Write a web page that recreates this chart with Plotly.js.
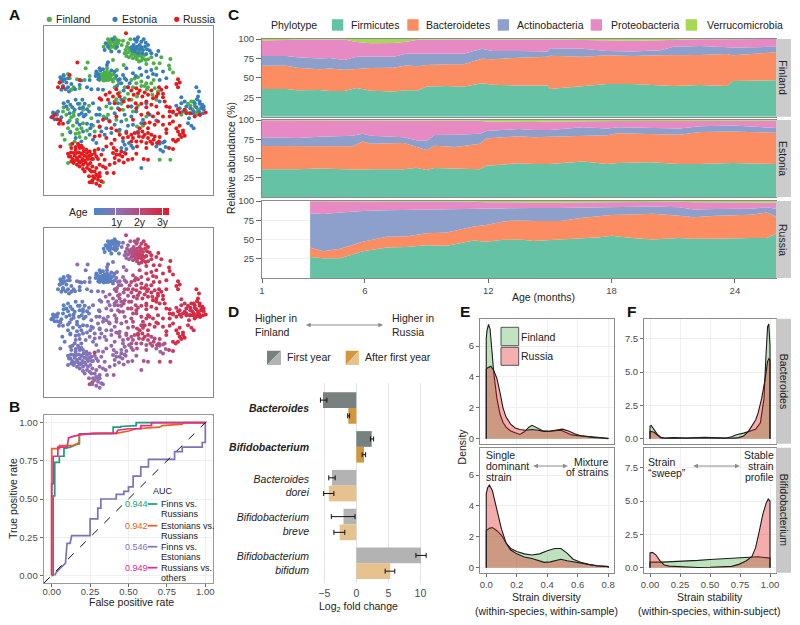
<!DOCTYPE html>
<html><head><meta charset="utf-8">
<script src="https://cdn.plot.ly/plotly-3.0.1.min.js"></script>
<style>html,body{margin:0;padding:0;background:#fff}</style></head>
<body><div id="chart" style="width:800px;height:625px"></div>
<script>
// ---------- Panel A: t-SNE points as [x, y, age in years] ----------
const finlandPoints=[[345,112,.4],[335,118,.3],[352,120,.3],[328,125,.4],[340,126,.3],[350,128,.4],[322,133,.3],[333,136,.5],[345,135,.4],[355,130,.6],[312,140,.3],[330,146,.3],[370,122,.9],[366,135,1.0],[385,130,1.4],[392,118,1.6],
[378,150,1.5],[388,146,1.7],[400,142,1.8],[410,150,2],[420,155,2.2],[375,160,1.3],[385,158,1.5],[395,165,1.9],[405,163,2.1],[415,168,2.3],[425,170,2.4],[435,165,2.5],[412,178,2.1],[425,182,2.3],[438,180,2.5],[400,175,1.8],[388,172,1.4],[445,178,2.4],[455,172,2.5],[462,190,2.6],[480,190,2.3],[512,177,2.9],[485,172,2.6],[508,197,2.8],[510,207,2.9],[520,218,2.7],[264,188,1],[340,180,.9],[322,205,.8],[352,210,1.1],[372,195,1.3],
[300,230,.3],[308,222,.3],[315,218,.3],[322,215,.4],[330,220,.3],[305,235,.2],[312,232,.3],[320,228,.3],[328,230,.4],[335,226,.4],[318,240,.3],[326,240,.3],[312,242,.2],[335,238,.5],[342,222,.6],[345,235,.7],
[192,228,.3],[205,222,.5],[210,235,.4],[232,238,.6],[240,265,.5],[255,240,.7],[270,228,.9],[222,262,.5],[215,270,.6],
[345,262,1.3],[358,250,1.6],[375,262,1.9],[395,240,2.1],[405,236,2.2],[415,232,2.3],[425,245,2.4],[435,258,2.6],[445,262,2.5],[455,250,2.7],[465,265,2.4],[475,275,2.6],[458,285,2.5],[442,268,2.5],[375,295,1.7],[395,300,1.9],[412,290,2],[345,305,1.3],[365,312,1.7],[395,320,2],
[192,322,.3],[205,328,.4],[190,335,.3],[215,352,.5],[222,348,.6],[210,362,.5],[240,312,.4],[250,330,.5],[268,318,.6],[300,328,.8],[325,345,1.1],[312,350,1],[275,355,.6],
[188,405,.4],[212,395,.4],[232,388,.6],[228,402,.7],[240,412,.8],[250,370,.6],[262,392,.8],[285,395,.9],[300,382,.9],[358,395,1.2],[212,435,.8],[225,425,.7],
[565,312,2.7],[575,305,2.8],[585,318,2.9],[595,330,2.9],[600,340,3],[578,328,2.7],[570,340,2.6],[590,345,2.8],[605,322,2.9],[545,345,2.3],
[205,490,.8],[310,548,1.1],[480,480,2],[512,480,2.2],[412,380,2.2],[430,378,2.4],[380,360,1.7],[440,350,2.3],[415,318,2.1],
[338,122,.3],[346,118,.4],[330,130,.3],[358,122,.5],[340,140,.4],[325,118,.3],[348,145,.4],[382,140,1.5],[392,152,1.7],[402,152,1.9],[398,158,2],[412,158,2.2],[420,162,2.2],[430,176,2.4],[418,185,2.3],[408,170,2.1],[380,168,1.3],[440,192,2.5],[470,205,2.6],[300,224,.3],[308,228,.3],[316,224,.3],[324,222,.3],[332,234,.4],[318,234,.3],[310,238,.3],[324,234,.3],[300,240,.3],[340,245,.6],[258,205,.9],
[425,258,2.5],[440,250,2.4],[462,240,2.6],[410,250,2.3],[400,262,2.2],[385,282,1.9],[360,278,1.7],[350,298,1.5],[335,325,1.3],[320,320,1.1],[400,335,2],[470,300,2.6],[200,345,.4],[222,338,.5],[232,360,.5],[220,378,.6],[245,385,.7],[205,385,.5],[238,400,.8],[195,420,.6],[258,415,.8],[280,378,.9],[328,362,1.2],[572,318,2.8],[582,305,2.9],[592,338,2.9],[560,335,2.6],[350,360,1.5],[370,330,1.7]];

const estoniaPoints=[[318,130,.3],[340,118,.4],[325,140,.3],[352,140,.4],[335,155,.3],[358,155,.5],[315,150,.3],[415,112,2],[410,125,2.1],[432,118,2.3],[438,128,2.4],[420,135,2.2],[402,135,1.9],[395,142,1.8],[408,145,2],[420,148,2.1],[430,150,2.3],[442,148,2.5],[450,152,2.6],[476,153,2.8],[405,155,2],[415,160,2.2],[428,160,2.4],[470,165,2.7],[380,205,1.4],[325,187,.6],[322,195,.7],
[290,215,.3],[295,222,.3],[298,232,.2],[288,228,.3],[302,212,.3],[310,208,.4],[335,212,.5],[350,228,.9],[360,238,1.2],[370,225,1.3],[380,240,1.7],[390,250,1.9],[365,250,1.5],[372,272,1.6],[385,262,1.9],[400,220,2],[420,205,2.1],[440,215,2.4],[455,210,2.5],[470,225,2.5],[445,232,2.5],[490,215,2.7],[500,235,2.8],
[182,232,.3],[188,245,.3],[195,238,.4],[205,235,.5],[180,248,.3],[190,258,.3],[198,268,.4],[208,275,.5],[215,252,.6],[245,242,.5],[262,262,.6],[270,240,.7],[275,268,.7],[295,268,.9],
[192,310,.3],[200,320,.3],[212,315,.4],[228,300,.4],[248,300,.4],[255,312,.5],[240,325,.4],[246,340,.4],[258,345,.5],[268,335,.6],[225,330,.4],[160,338,.2],[172,345,.3],[155,352,.2],[175,335,.3],[185,352,.3],[165,358,.3],[280,310,.7],[298,325,.9],
[205,368,.5],[212,398,.4],[232,368,.5],[262,372,.6],[272,385,.7],[270,405,.8],[250,395,.7],[295,365,.9],[305,395,1],[320,385,1.1],[335,400,1.2],[345,375,1.3],[330,310,1.2],[355,325,1.4],[345,340,1.4],[375,345,1.6],[395,350,1.9],[410,335,2],[365,365,1.5],[385,378,1.7],[400,375,2],[430,360,2.2],[450,345,2.3],[415,395,2.1],[440,310,2.3],[480,305,2.5],[365,300,1.6],
[375,435,1.2],[388,430,1.4],[400,445,1.5],[365,445,1.1],[380,448,1.3],[480,432,1.4],[490,428,1.6],[498,442,1.5],[482,450,1.3],[490,455,1.7],[425,505,1.6],[310,450,1.0],[290,430,.9],[245,425,.7],
[590,262,3],[598,275,3],[595,290,3],[600,305,3],[585,310,2.9],[590,322,2.9],[608,315,3],[612,328,2.8],[598,335,2.9],[582,335,2.9],[572,325,2.8],[560,320,2.8],[545,292,2.5],[555,305,2.6],[540,325,2.5],[550,335,2.6],[520,338,2.3],[565,370,2.5],[575,378,2.6],[582,385,2.7],[610,340,3],
[412,120,2],[425,125,2.2],[405,118,1.9],[445,135,2.5],[412,140,2.1],[425,142,2.3],[436,140,2.4],[398,150,1.9],[455,160,2.6],[440,162,2.5],[290,220,.3],[300,205,.3],[296,238,.3],[345,215,.6],[355,240,1.1],[375,235,1.5],[352,258,1.4],[408,228,2.2],[425,225,2.3],[460,222,2.5],[480,240,2.6],[185,238,.3],[200,248,.4],[192,225,.3],[205,262,.4],[226,268,.5],[240,255,.6],[185,270,.4],[310,270,.9],
[205,305,.3],[218,322,.4],[235,312,.4],[250,322,.4],[262,328,.5],[252,350,.5],[238,345,.4],[160,348,.2],[168,340,.3],[180,360,.3],[210,340,.4],[290,345,.8],[275,375,.7],[240,375,.6],[228,415,.7],[280,420,.9],[315,405,1.1],[360,390,1.4],[380,395,1.7],[425,370,2.2],[470,362,2.4],[395,320,1.9],[355,310,1.4],[320,355,1.1],[300,345,.9],[370,425,1.3],[395,438,1.5],[375,458,1.2],[470,440,1.5],[495,425,1.7],
[605,325,3],[600,312,2.9],[592,298,3],[602,345,2.9],[612,320,3],[580,340,2.9],[568,355,2.6],[530,318,2.5],[545,310,2.5]];

const russiaPoints=[[379,100,2.2],[233,188,1.2],[535,238,3],[540,248,2.9],[530,252,2.9],[535,262,2.8],[300,295,1],[305,300,1],[490,292,2.9],[495,305,2.9],
[205,462,.7],[212,470,.8],[218,478,.8],[225,468,.9],[232,475,.9],[240,470,.9],[248,478,.8],[222,490,.8],[232,495,.9],[240,488,.9],[250,495,.9],[258,488,1],[265,478,1],[272,490,1.1],[215,445,.7],[228,450,.7],[240,445,.8],[252,455,.8],[262,460,.9],[235,432,.8],[218,432,.9],[245,438,1],[270,455,1],[285,462,1.1],[280,478,1.1],[295,478,1.2],[262,505,1.1],[250,508,1],[278,500,1.2],[290,505,1.3],[300,495,1.3],[315,480,1.3],[318,505,1.4],[330,495,1.3],[275,515,1.1],[290,525,1.2],[300,520,1.3],[268,530,1.3],[278,542,2.1],[270,548,2.2],[285,535,1.2],[295,540,1.1],[305,545,1.2],[290,552,1.1],[300,558,1],[322,520,1.3],[342,520,1.5],
[340,460,1.3],[350,452,1.2],[360,465,1.3],[345,475,1.3],[358,482,1.2],[368,470,1.3],[372,488,1.3],[378,462,1.3],[398,478,1.5],[432,478,1.8],[445,480,1.8],[320,440,1.5],[335,432,1.4],[296,448,1.2],[182,440,.9],[285,452,2.3],
[385,412,1.7],[395,405,1.8],[405,400,1.9],[418,410,2],[428,395,2.4],[435,405,2.5],[445,415,2],[455,405,2.1],[462,420,2.1],[472,430,2.2],[458,432,1.9],[440,430,1.8],[425,425,1.9],[412,440,1.8],[395,425,1.7],[370,415,1.5],[360,405,1.5],[345,420,1.3],[300,408,1.1],[320,415,1.2],[480,412,2.3],[500,400,2.5],[520,420,2.8],[535,420,2.9],[545,412,3],[550,400,3],[530,385,2.9],[540,378,2.9],[550,392,3],[508,445,2.5],[520,448,2.5],
[165,345,.6],[172,358,.6],[182,362,.7],[190,372,.7],[158,352,.5],[178,372,.6],
[325,300,1.3],[340,290,1.5],[355,282,1.7],[330,278,1.5],[350,268,1.8],[410,265,2.2],[395,272,2.2],[402,285,2.3],[420,272,2.5],[428,290,2.5],[445,285,2.7],[460,295,2.8],[475,282,2.7],[485,270,2.8],[478,262,2.7],[440,305,2.5],[455,315,2.6],[470,320,2.7],[425,312,2.4],[408,310,2.3],[388,300,2],[372,305,1.9],[360,290,1.7],
[500,320,2.7],[510,322,2.8],[520,335,2.7],[535,328,2.9],[555,330,2.8],[572,340,3],[585,350,3],[600,345,3],[618,338,3],[530,345,2.8],[510,350,2.7],
[445,340,2.5],[460,350,2.5],[475,340,2.6],[490,350,2.6],[435,370,2.6],[420,385,2.6],[445,385,2.4],[465,375,2.5],[490,375,2.5],[510,372,2.6],[400,360,2.1],[350,350,1.6],[330,365,1.4],[310,360,1.2],[335,385,1.3],[180,248,.6],[190,262,.6],[175,262,.5],[210,225,.8],[240,240,.7],[285,410,1],
[208,470,.8],[214,458,.7],[222,460,.8],[230,460,.8],[238,458,.8],[246,462,.8],[254,468,.9],[262,472,.9],[270,468,1],[215,485,.8],[225,482,.8],[235,482,.9],[245,485,.9],[255,482,1],[265,495,1],[275,478,1.1],[228,442,.8],[238,438,.8],[250,445,.8],[260,450,.9],[275,465,1],[290,470,1.1],[305,465,1.2],[240,500,1],[255,515,1.1],[270,510,1.1],[285,515,1.2],[300,530,1.1],[280,530,1.2],[295,530,1.1],[278,548,1],[310,500,1.3],[345,490,1.3],[350,465,1.2],[365,455,1.3],[342,445,1.3],[385,480,1.4],[410,462,1.5],
[400,415,1.8],[410,425,1.9],[430,412,2.3],[445,400,2.4],[452,425,2],[465,410,2.1],[478,425,2.2],[380,400,1.7],[350,392,1.5],[300,380,1],[440,445,1.8],[528,425,2.8],[540,405,3],[555,408,3],[535,395,3],
[385,262,2],[415,280,2.3],[435,278,2.6],[455,272,2.7],[470,290,2.8],[490,282,2.9],[500,262,2.8],[440,322,2.5],[410,325,2.3],[385,320,2.1],[360,330,1.7],[345,310,1.5],[318,285,1.3],[510,335,2.8],[540,338,2.8],[560,340,2.9],[475,365,2.6],[450,368,2.5],[425,345,2.4],[500,388,2.6],[520,365,2.7],[415,400,2.6]];

// ---------- Panel B: ROC curves ----------
const rocGreenX=[0,.01,.01,.02,.02,.05,.05,.08,.08,.12,.17,.18,.18,.4,.4,.45,.45,.55,.55,1];
const rocGreenY=[0,0,.52,.52,.74,.74,.78,.78,.83,.84,.86,.86,.926,.93,.97,.97,.975,.98,1,1];
const rocOrangeX=[0,0,.05,.05,.14,.18,.18,.27,.42,.5,.55,.7,.72,.85,.86,1];
const rocOrangeY=[0,.83,.83,.85,.85,.87,.92,.93,.93,.945,.96,.97,.98,.99,1,1];
const rocPurpleX=[.02,.03,.05,.07,.09,.1,.12,.13,.25,.25,.3,.3,.32,.32,.42,.42,.47,.47,.5,.5,.53,.53,.58,.58,.63,.63,.8,.8,.85,.85,.98,.98,1,1];
const rocPurpleY=[0,.02,.04,.06,.08,.21,.21,.26,.26,.37,.37,.44,.44,.5,.5,.53,.53,.55,.55,.58,.58,.65,.65,.71,.71,.76,.76,.81,.81,.84,.84,.87,.87,1];
const rocPinkX=[0,0,.01,.01,.04,.04,.1,.11,.14,.17,.2,.3,.42,.43,.5,.58,.58,.65,.65,1];
const rocPinkY=[0,.6,.6,.78,.78,.84,.84,.9,.91,.92,.925,.93,.93,.95,.96,.96,.98,.98,1,1];
const diagonalX=[-.05,1.05], diagonalY=[-.05,1.05];

// ---------- Panel C: upper edge of each stacked band (%) ----------
const phyla=['Firmicutes','Bacteroidetes','Actinobacteria','Proteobacteria','Verrucomicrobia'];
const phylaColors=['#66c2a5','#fc8d62','#8da0cb','#e78ac3','#a6d854'];
const finMonths=[1,2.2,2.7,3.8,4.3,5,5.6,6.3,7.4,8,8.6,9,10,10.8,11.7,12.2,13.5,14.9,15,16.6,17.8,19,20.4,21,22.3,23.6,23.9,25,26];
const finFirm=[35.6,35.5,34,34.5,33,33,37,33.5,32.5,34,34,39,39.5,38.5,43,41,40,40.2,35.5,39,42,42,40.5,39.5,40.8,39.5,46,46.5,47];
const finBact=[65.7,65.7,63,61,62,60.5,61.5,62.6,63,66,65,66.5,67.4,67.4,74.7,74,76,77,78.5,77,79,78,79,79,79.5,80.6,79,81,83];
const finActi=[78,78,76.5,75,75.5,73,77,77,77,81,81,81.5,81.5,81,87.5,84.5,84.5,84,88,87.5,84.5,84,85.5,90,91,90,89,89.5,90];
const finProt=[98,99,99,99.3,99.4,99.5,96,94.5,95,96.5,99,99.2,99.4,99.5,99.5,99.6,99.6,99.4,99.2,98.5,98,97.8,98.5,99,99.6,99.8,99.8,99.9,99.9];
const finVerr=[100,100,100,100,100,100,100,100,100,100,100,100,100,100,100,100,100,100,100,100,100,100,100,100,100,100,100,100,100];

const estMonths=[1,2.7,3.8,5.4,5.9,6.3,7.9,8.5,9,9.4,10.4,11.6,11.9,13.5,14.2,15,16.6,17.8,18.3,19.9,21.3,22.3,23.9,26];
const estFirm=[36,36,37,35.5,35.5,36,36,38,35,37.5,36.5,36,40.7,43.7,43,43,46,43,44,45,43,43,44,43];
const estBact=[66.2,66,66,66,72,69,70,65,61,66.7,65,69,76,79,77.5,78.4,80,80.3,82.7,82,81,84.5,85,83.5];
const estActi=[77.5,76.6,78.4,79.6,82,79.6,77.5,73.6,73,80.5,81,82,85.7,88.3,87,87,90.5,89,90.5,90,89,92,93,89.6];
const estProt=[99.6,99.5,99.4,99.2,99.2,99.1,99,99,99,99,99,99,98,97,97.5,98,98.7,98.7,98.8,98.8,99,99,99,99];
const estVerr=[100,100,100,100,100,100,100,100,100,100,100,100,100,100,100,100,100,100,100,100,100,100,100,100];

const rusMonths=[3.34,3.98,4.8,5.9,7.07,8,9,10,11.3,11.9,12.75,13.55,14.2,15.5,16.5,17.45,18,19,20,21.3,22,23.1,24.75,25.55,26];
const rusFirm=[27.4,25.6,25.6,34.8,39.6,40.4,42.6,42,48.7,47,49.6,50,48,50,52,53,55,52,50,52,51,51,52,52,57.4];
const rusBact=[39.6,34.8,38,47,53.5,54,58,59,67,68.7,73.5,75,74,74,78,80,81.7,82.5,83.5,81,79,81,82,85,80];
const rusActi=[84,83,85,87,88,88.5,89,89.5,90,90.2,90.4,91.3,91,91,91.5,92,92,92.5,93,92,89,89.5,90,92,90];
const rusProt=[99.6,99.6,99.6,99.6,99.5,99.5,99.5,99.5,99,98.5,98,98,98,98.2,98.4,98.6,98.8,99,99,99,98.5,98.5,98,98,98];
const rusVerr=[100,100,100,100,100,100,100,100,100,100,100,100,100,100,100,100,100,100,100,100,100,100,100,100,100];

// ---------- Panel D: log2 fold change ----------
const dCategories=['<b><i>Bacteroides</i></b>','<b><i>Bifidobacterium</i></b>','<i>Bacteroides</i><br><i>dorei</i>','<i>Bifidobacterium</i><br><i>breve</i>','<i>Bifidobacterium</i><br><i>bifidum</i>'];
const firstYear=[-5.2,2.4,-3.8,-2,10.1];
const firstYearLow=[-5.6,2.2,-4.3,-3.9,9.3];
const firstYearHigh=[-4.6,2.7,-3.3,-.2,10.9];
const afterYear=[-1.25,1.2,-4.3,-2.6,5.3];
const afterYearLow=[-1.35,.9,-5.1,-3.5,4.5];
const afterYearHigh=[-1.05,1.45,-3.5,-1.8,6];
const firstYearColors=['#788080','#788080','#b3b3b3','#b3b3b3','#b3b3b3'];
const afterYearColors=['#d4963a','#d4963a','#e6c28e','#e6c28e','#e6c28e'];

// ---------- Panel E: strain diversity densities ----------
const eBacFinX=[0,0,.005,.015,.025,.035,.05,.07,.09,.11,.13,.16,.19,.22,.25,.28,.3,.33,.37,.41,.45,.49,.52,.56,.6,.65,.7,.75,.8,.8];
const eBacFinY=[0,6.5,7,7.4,7.1,6,4.2,2.6,1.6,1.05,.75,.5,.4,.28,.45,.75,.87,.72,.52,.48,.52,.55,.42,.25,.2,.17,.12,.07,.04,0];
const eBacRusX=[0,0,.01,.03,.05,.07,.09,.11,.13,.16,.19,.22,.26,.3,.34,.38,.42,.46,.5,.54,.58,.62,.66,.7,.75,.8,.8];
const eBacRusY=[0,4.5,4.6,4.7,4.4,3.9,3,2,1.4,.95,.7,.6,.55,.6,.55,.48,.5,.58,.62,.5,.32,.2,.13,.09,.05,.03,0];
const eBifFinX=[0,0,.02,.04,.07,.1,.13,.16,.2,.25,.3,.35,.4,.45,.49,.53,.57,.62,.67,.72,.8,.8];
const eBifFinY=[0,2.4,2.55,2.6,2.4,2.1,1.6,1.25,1.05,.9,.83,.9,1.1,1.25,1.25,.95,.55,.35,.22,.13,.08,0];
const eBifRusX=[0,0,.01,.02,.04,.06,.08,.1,.13,.16,.2,.25,.3,.34,.38,.42,.46,.49,.53,.58,.63,.68,.73,.8,.8];
const eBifRusY=[0,4.8,5.2,5.35,5,4.2,3.3,2.5,1.6,1.15,.9,.7,.6,.45,.35,.38,.48,.55,.45,.37,.3,.2,.12,.08,0];

// ---------- Panel F: strain stability densities ----------
const fBacFinX=[0,0,.01,.03,.06,.09,.12,.2,.3,.4,.46,.55,.63,.68,.72,.78,.83,.88,.92,.95,.965,.98,.99,1,1];
const fBacFinY=[0,.95,1,.75,.35,.1,.05,.08,.04,.08,.1,.06,.03,.15,.3,.42,.55,.7,1.2,3,6,8.4,8.6,7,0];
const fBacRusX=[0,0,.03,.06,.09,.12,.2,.3,.4,.5,.6,.7,.74,.78,.82,.85,.88,.9,.93,.96,.98,.99,1,1];
const fBacRusY=[0,.55,.5,.3,.08,.03,.05,.03,.05,.06,.03,.04,.08,.2,.55,.95,1.4,1.9,3,4.5,5.8,6,5.9,0];
const fBifFinX=[0,0,.1,.2,.3,.4,.5,.6,.7,.8,.9,1,1];
const fBifFinY=[0,.42,.42,.45,.5,.55,.62,.68,.72,.78,.82,.72,0];
const fBifRusX=[0,0,.02,.05,.08,.12,.16,.2,.3,.4,.5,.6,.68,.74,.8,.85,.88,.91,.94,.97,.985,1,1];
const fBifRusY=[0,1.1,1.15,.95,.55,.2,.12,.1,.03,.02,.03,.05,.1,.25,.5,.85,1.5,2.7,4,4.9,5.15,5,0];

// ---------- helpers ----------
const W=800,H=625,FONT='"Liberation Sans", Arial, sans-serif';
const px=x=>x/W, py=y=>1-y/H;
const ink='#222', tickInk='#4a4a4a', frame='#8a8a8a', grid='#ececec';
const annotations=[], shapes=[];
function label(text,x,y,o={}){annotations.push(Object.assign({text,x:px(x),y:py(y),xref:'paper',yref:'paper',showarrow:false,xanchor:'left',yanchor:'middle',font:{family:FONT,size:10.5,color:ink},borderpad:0,borderwidth:0},o));}
function rows(lines,x,y0,dy,o={}){lines.forEach((t,i)=>label(t,x,y0+i*dy,o));}
function rect(x0,y0,x1,y1,fill,line,layer){shapes.push({type:'rect',xref:'paper',yref:'paper',x0:px(x0),x1:px(x1),y0:py(y0),y1:py(y1),fillcolor:fill,line:{color:line||fill,width:line?1:0},layer:layer||'above'});}
function dot(x,y,r,fill){shapes.push({type:'circle',xref:'paper',yref:'paper',x0:px(x-r),x1:px(x+r),y0:py(y-r),y1:py(y+r),fillcolor:fill,line:{width:0}});}
function tri(pts,fill){shapes.push({type:'path',xref:'paper',yref:'paper',path:'M'+pts.map(p=>px(p[0])+','+py(p[1])).join('L')+'Z',fillcolor:fill,line:{width:0}});}
function doubleArrow(x0,x1,y,color){
  const c=color||'#8c8c8c';
  shapes.push({type:'line',xref:'paper',yref:'paper',x0:px(x0+3),x1:px(x1-3),y0:py(y),y1:py(y),line:{color:c,width:1}});
  tri([[x0,y],[x0+5,y-2.3],[x0+5,y+2.3]],c); tri([[x1,y],[x1-5,y-2.3],[x1-5,y+2.3]],c);
}
function xa(x0,x1,range,o={}){return Object.assign({domain:[px(x0),px(x1)],range,fixedrange:true,showline:true,mirror:true,linecolor:frame,linewidth:1,zeroline:false,showgrid:true,gridcolor:grid,gridwidth:.8,ticks:'outside',ticklen:3,tickcolor:'#444',tickwidth:.8,tickfont:{family:FONT,size:9.5,color:tickInk},automargin:false},o);}
function ya(y0,y1,range,o={}){return Object.assign({domain:[py(y1),py(y0)],range,fixedrange:true,showline:true,mirror:true,linecolor:frame,linewidth:1,zeroline:false,showgrid:true,gridcolor:grid,gridwidth:.8,ticks:'outside',ticklen:3,tickcolor:'#444',tickwidth:.8,tickfont:{family:FONT,size:9.5,color:tickInk},automargin:false},o);}

const traces=[];
const noAxis={showticklabels:false,ticks:'',showgrid:false};

// ---- Panel A
const ax=p=>p.map(q=>q[0]), ay=p=>p.map(q=>q[1]), aa=p=>p.map(q=>q[2]);
[[finlandPoints,'#4daf4a','Finland'],[estoniaPoints,'#377eb8','Estonia'],[russiaPoints,'#e41a1c','Russia']].forEach(s=>{
  traces.push({type:'scatter',mode:'markers',x:ax(s[0]),y:ay(s[0]),xaxis:'x',yaxis:'y',name:s[2],marker:{size:4,color:s[1]},showlegend:false,hoverinfo:'skip'});
});
const allPts=finlandPoints.concat(estoniaPoints,russiaPoints);
traces.push({type:'scatter',mode:'markers',x:ax(allPts),y:ay(allPts),xaxis:'x2',yaxis:'y2',showlegend:false,hoverinfo:'skip',
 marker:{size:4,color:aa(allPts),cmin:.08,cmax:3.28,colorscale:[[0,'#4a86c8'],[.33,'#8f6fb5'],[.66,'#c0446e'],[1,'#e41a2c']],showscale:true,
  colorbar:{orientation:'h',x:px(94),xanchor:'left',y:py(208.3),yanchor:'top',lenmode:'pixels',len:75,thicknessmode:'pixels',thickness:6.5,outlinewidth:0,borderwidth:0,
   tickmode:'array',tickvals:[1,2,3],ticks:'inside',ticklen:6.5,tickcolor:'#fff',tickwidth:1,showticklabels:false,xpad:0,ypad:0}}});
const aXRange=[133,640], aYRange=[586,78];

// ---- Panel B
[[rocGreenX,rocGreenY,'#1b9e77','Finns vs. Russians'],[rocOrangeX,rocOrangeY,'#e8601c','Estonians vs. Russians'],[rocPurpleX,rocPurpleY,'#7b73b8','Finns vs. Estonians'],[rocPinkX,rocPinkY,'#e7298a','Russians vs. others']].forEach(s=>{
  traces.push({type:'scatter',mode:'lines',x:s[0],y:s[1],xaxis:'x3',yaxis:'y3',name:s[3],line:{color:s[2],width:1.7},showlegend:false,hoverinfo:'skip'});
});
traces.push({type:'scatter',mode:'lines',x:diagonalX,y:diagonalY,xaxis:'x3',yaxis:'y3',line:{color:'#111',width:1,dash:'8px,9px'},showlegend:false,hoverinfo:'skip'});

// ---- Panel C
function stack(months,bands,xn,yn){
  bands.forEach((b,i)=>traces.push({type:'scatter',mode:'lines',x:months,y:b,xaxis:xn,yaxis:yn,name:phyla[i],line:{width:0,color:phylaColors[i]},fill:i?'tonexty':'tozeroy',fillcolor:phylaColors[i],showlegend:false,hoverinfo:'skip'}));
}
stack(finMonths,[finFirm,finBact,finActi,finProt,finVerr],'x4','y4');
stack(estMonths,[estFirm,estBact,estActi,estProt,estVerr],'x5','y5');
stack(rusMonths,[rusFirm,rusBact,rusActi,rusProt,rusVerr],'x6','y6');

// ---- Panel D
const errs=(v,lo,hi)=>({type:'data',symmetric:false,array:hi.map((h,i)=>h-v[i]),arrayminus:lo.map((l,i)=>v[i]-l),color:'#111',thickness:1,width:2.5});
traces.push({type:'bar',orientation:'h',y:dCategories,x:firstYear,name:'First year',xaxis:'x7',yaxis:'y7',marker:{color:firstYearColors,line:{width:0}},error_x:errs(firstYear,firstYearLow,firstYearHigh),showlegend:false,hoverinfo:'skip'});
traces.push({type:'bar',orientation:'h',y:dCategories,x:afterYear,name:'After first year',xaxis:'x7',yaxis:'y7',marker:{color:afterYearColors,line:{width:0}},error_x:errs(afterYear,afterYearLow,afterYearHigh),showlegend:false,hoverinfo:'skip'});

// ---- Panels E, F
const finFill='rgba(77,175,74,.36)', rusFill='rgba(228,26,28,.36)';
function dens(x,y,fill,xn,yn,name){traces.push({type:'scatter',mode:'lines',x,y,xaxis:xn,yaxis:yn,name,fill:'toself',fillcolor:fill,line:{color:'#1c1c1c',width:1.1},showlegend:false,hoverinfo:'skip'});}
dens(eBacFinX,eBacFinY,finFill,'x8','y8','Finland'); dens(eBacRusX,eBacRusY,rusFill,'x8','y8','Russia');
dens(eBifFinX,eBifFinY,finFill,'x9','y9','Finland'); dens(eBifRusX,eBifRusY,rusFill,'x9','y9','Russia');
dens(fBacFinX,fBacFinY,finFill,'x10','y10','Finland'); dens(fBacRusX,fBacRusY,rusFill,'x10','y10','Russia');
dens(fBifFinX,fBifFinY,finFill,'x11','y11','Finland'); dens(fBifRusX,fBifRusY,rusFill,'x11','y11','Russia');

// ---------- annotations ----------
const bold={family:FONT,size:15.5,color:'#111',weight:700};
[['A',9,14.5],['B',8.5,406],['C',228,14.5],['D',228,311],['E',460,311.5],['F',627,311.5]].forEach(l=>label('<b>'+l[0]+'</b>',l[1],l[2],{font:bold}));

dot(49.3,19.3,2.6,'#4daf4a'); label('Finland',56,19.3);
dot(115,19.3,2.6,'#377eb8'); label('Estonia',121.7,19.3);
dot(176.7,19.3,2.6,'#e41a1c'); label('Russia',183,19.3);
label('Age',69,211.5);
[['1y',117],['2y',140],['3y',163]].forEach(t=>label(t[0],t[1],221.7,{xanchor:'center'}));

// B titles and legend
rect(125,483,212.5,582.5,'#fff',null,'below');
label('True positive rate',13,499,{textangle:-90,xanchor:'center'});
label('False positive rate',131,601.7,{xanchor:'center'});
const sm={family:FONT,size:9,color:ink};
label('AUC',153,491,{font:sm});
[['0.944','#1b9e77',['Finns vs.','Russians'],504],['0.942','#e8601c',['Estonians vs.','Russians'],525.7],['0.546','#7b73b8',['Finns vs.','Estonians'],546.7],['0.949','#e7298a',['Russians vs.','others'],567.7]].forEach(r=>{
  label(r[0],125,r[3],{font:{family:FONT,size:9,color:r[1]}});
  shapes.push({type:'line',xref:'paper',yref:'paper',x0:px(147.7),x1:px(157.3),y0:py(r[3]),y1:py(r[3]),line:{color:r[1],width:1.7}});
  rows(r[2],160.7,r[3],9.8,{font:sm});
});

// C titles, legend, strips
label('Relative abundance (%)',231,158,{textangle:-90,xanchor:'center'});
label('Age (months)',543,297,{xanchor:'center'});
label('Phylotype',271,25);
[[332,'Firmicutes',350.7],[407.3,'Bacteroidetes',425.7],[497.7,'Actinobacteria',516.7],[590.7,'Proteobacteria',611],[685.7,'Verrucomicrobia',706.7]].forEach((r,i)=>{
  rect(r[0],19.2,r[0]+11.3,30.7,phylaColors[i]);
  label(r[1],r[2],25);
});
[['Finland',39,116.7],['Estonia',120,197],['Russia',201,278]].forEach(s=>{
  rect(776,s[1],791,s[2],'#cccccc');
  label(s[0],783.5,(s[1]+s[2])/2,{textangle:90,xanchor:'center'});
});

// D titles and legend
rows(['Higher in','Finland'],254.7,318.3,13.4);
rows(['Higher in','Russia'],392,318.3,13.4);
doubleArrow(305.7,383.3,325);
tri([[267,350.7],[267,365],[281,350.7]],'#788080'); tri([[267,365],[281,365],[281,350.7]],'#b3b3b3');
label('First year',286.7,357.3);
tri([[345.7,350.7],[345.7,365],[359,350.7]],'#d4963a'); tri([[345.7,365],[359,365],[359,350.7]],'#e6c28e');
label('After first year',364.7,357.3);
label('Log<sub>2</sub> fold change',358,607,{xanchor:'center'});

// E annotations
rect(501,327.3,518.7,345.7,'rgb(193,227,192)','#555');
rect(501,347.3,518.7,365.3,'rgb(245,175,176)','#555');
label('Finland',520.7,336.7); label('Russia',520.7,356.3);
label('Density',461.7,446.7,{textangle:-90,xanchor:'center'});
rows(['Single','dominant','strain'],486,455.3,11);
rows(['Mixture','of strains'],609,461.7,10.7,{xanchor:'right'});
doubleArrow(533,568,466);
label('Strain diversity',547,597,{xanchor:'center'});
label('(within-species, within-sample)',546,610.7,{xanchor:'center'});

// F annotations
rows(['Strain','“sweep”'],648,462,11);
rows(['Stable','strain','profile'],774,455.3,11,{xanchor:'right'});
doubleArrow(693,740,466);
label('Strain stability',710,597,{xanchor:'center'});
label('(within-species, within-subject)',709,610.7,{xanchor:'center'});
[['Bacteroides',318.7,443.7],['Bifidobacterium',447.7,572.7]].forEach(s=>{
  rect(776,s[1],791,s[2],'#c8c8c8');
  label(s[0],783.5,(s[1]+s[2])/2,{textangle:90,xanchor:'center'});
});

// ---------- layout ----------
const cY={tickvals:[25,50,75,100],ticklen:5};
const eRange=[-.32,7.77], fRange=[-.375,9];
const layout={width:W,height:H,margin:{l:0,r:0,t:0,b:0},paper_bgcolor:'#fff',plot_bgcolor:'#fff',autosize:false,showlegend:false,
 font:{family:FONT,size:10.5,color:ink},barmode:'group',bargap:.19,bargroupgap:0,annotations,shapes,
 xaxis:xa(44,213,aXRange,noAxis),yaxis:ya(26,195,aYRange,noAxis),
 xaxis2:xa(44,213,aXRange,noAxis),yaxis2:ya(228,397,aYRange,noAxis),
 xaxis3:xa(44,213,[-.05,1.05],{tickvals:[0,.25,.5,.75,1],ticktext:['0.00','0.25','0.50','0.75','1.00'],linewidth:1.4,linecolor:'#9a9a9a',ticklabelstandoff:-4}),
 yaxis3:ya(415,583,[-.05,1.05],{tickvals:[0,.25,.5,.75,1],ticktext:['0.00','0.25','0.50','0.75','1.00'],linewidth:1.4,linecolor:'#9a9a9a'}),
 xaxis4:xa(262,776,[1,26],{showticklabels:false,ticks:'',showgrid:false}),yaxis4:ya(39,116.7,[0,100],Object.assign({showgrid:false},cY)),
 xaxis5:xa(262,776,[1,26],{showticklabels:false,ticks:'',showgrid:false}),yaxis5:ya(120,197,[0,100],Object.assign({showgrid:false},cY)),
 xaxis6:xa(262,776,[1,26],{tickvals:[1,6,12,18,24],showgrid:false,ticklen:4}),yaxis6:ya(201,278,[0,100],cY),
 xaxis7:xa(315,430,[-6.45,11.5],{showline:false,mirror:false,ticks:'',tickvals:[-5,0,5,10],ticktext:['\u22125','0','5','10'],gridcolor:'#dcdcdc',anchor:'y7',ticklabelstandoff:2,tickfont:{family:FONT,size:10.5,color:tickInk}}),
 yaxis7:ya(383,583,[4.507,-.644],{showline:false,mirror:false,ticks:'',showgrid:false,type:'category',ticklabelstandoff:5,tickfont:{family:FONT,size:10.5,color:ink}}),
 xaxis8:xa(480,614.3,[-.041,.84],{showticklabels:false,ticks:'',tickvals:[0,.2,.4,.6,.8]}),yaxis8:ya(318.7,443.7,eRange,{tickvals:[0,2,4,6]}),
 xaxis9:xa(480,614.3,[-.041,.84],{tickvals:[0,.2,.4,.6,.8],ticktext:['0.0','0.2','0.4','0.6','0.8']}),yaxis9:ya(447.7,572.7,eRange,{tickvals:[0,2,4,6]}),
 xaxis10:xa(644,776,[-.05,1.05],{showticklabels:false,ticks:'',tickvals:[0,.25,.5,.75,1]}),yaxis10:ya(318.7,443.7,fRange,{tickvals:[0,2.5,5,7.5],ticktext:['0.0','2.5','5.0','7.5']}),
 xaxis11:xa(644,776,[-.05,1.05],{tickvals:[0,.25,.5,.75,1],ticktext:['0.00','0.25','0.50','0.75','1.00']}),yaxis11:ya(447.7,572.7,fRange,{tickvals:[0,2.5,5,7.5],ticktext:['0.0','2.5','5.0','7.5']})
};
for(let i=1;i<=11;i++){const s=i===1?'':i;layout['xaxis'+s].anchor='y'+s;layout['yaxis'+s].anchor='x'+s;}
Plotly.newPlot('chart',traces,layout,{staticPlot:true,displayModeBar:false});
</script></body></html>
